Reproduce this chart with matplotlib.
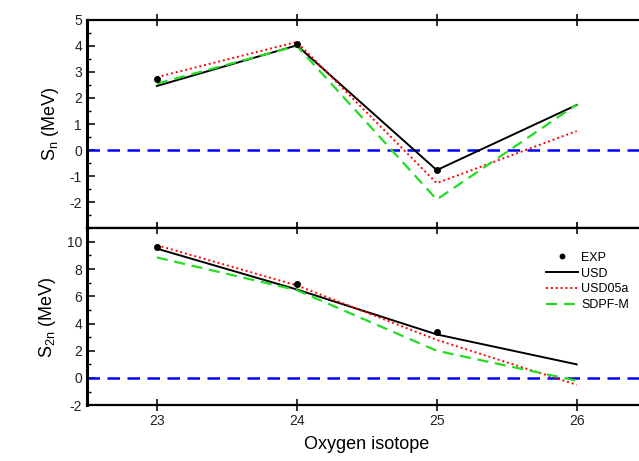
import matplotlib.pyplot as plt
import numpy as np

plt.rcParams['font.family'] = ['Liberation Sans', 'DejaVu Sans']
plt.rcParams['axes.unicode_minus'] = False
plt.rcParams['mathtext.default'] = 'regular'

isotopes = [23, 24, 25, 26]

# S_n panel
sn_exp_x = [23, 24, 25]
sn_exp = [2.74, 4.09, -0.78]
sn_usd = [2.46, 4.02, -0.77, 1.73]
sn_usd05a = [2.8, 4.15, -1.27, 0.73]
sn_sdpfm = [2.55, 4.0, -1.9, 1.75]

# S_2n panel
s2n_exp_x = [23, 24, 25]
s2n_exp = [9.6, 6.9, 3.35]
s2n_usd = [9.5, 6.5, 3.2, 1.0]
s2n_usd05a = [9.75, 6.8, 2.8, -0.5]
s2n_sdpfm = [8.85, 6.45, 2.0, -0.2]

fig = plt.figure(figsize=(6.39, 4.61), dpi=100)
ax1 = fig.add_axes([0.136, 0.505, 0.876, 0.452])
ax2 = fig.add_axes([0.136, 0.121, 0.876, 0.384])

def style(ax):
    for s in ax.spines.values():
        s.set_linewidth(1.6)
    ax.spines['left'].set_linewidth(2.2)
    ax.tick_params(axis='both', direction='in', width=1.3, length=6, labelsize=10, colors='#222222')
    ax.tick_params(axis='x', direction='inout', length=8, top=True, pad=2)
    ax.tick_params(which='minor', direction='in', length=3, width=1.0)
    ax.set_xlim(22.5, 26.5)
    ax.set_xticks(isotopes)

def draw(ax, ex_x, ex, usd, usd05a, sdpfm):
    ax.axhline(0, color='blue', ls=(0, (5, 3)), lw=1.8)
    ax.plot(isotopes, usd, color='black', lw=1.4, label='USD')
    ax.plot(isotopes, usd05a, color='red', ls=(0, (1, 1.5)), lw=1.4, label='USD05a')
    ax.plot(isotopes, sdpfm, color='#22dd22', ls=(0, (5, 3)), lw=1.6, label='SDPF-M')
    ax.plot(ex_x, ex, 'o', color='black', ms=4, label='EXP', zorder=5)

draw(ax1, sn_exp_x, sn_exp, sn_usd, sn_usd05a, sn_sdpfm)
style(ax1)
ax1.set_ylim(-3, 5)
ax1.set_yticks(np.arange(-2, 6, 1))
ax1.set_yticks(np.arange(-3, 5.01, 0.5), minor=True)
ax1.tick_params(axis='x', labelbottom=False)
ax1.set_ylabel('S$_n$ (MeV)', fontsize=13, labelpad=6)

draw(ax2, s2n_exp_x, s2n_exp, s2n_usd, s2n_usd05a, s2n_sdpfm)
style(ax2)
ax2.set_ylim(-2, 11)
ax2.set_yticks(np.arange(-2, 11, 2))
ax2.set_yticks(np.arange(-2, 11.01, 1), minor=True)
ax2.set_ylabel('S$_{2n}$ (MeV)', fontsize=13, labelpad=6)
ax2.set_xlabel('Oxygen isotope', fontsize=13, labelpad=6)

h, l = ax2.get_legend_handles_labels()
order = [3, 0, 1, 2]
ax2.legend([h[i] for i in order], [l[i] for i in order], loc='upper left',
           bbox_to_anchor=(0.8, 0.93), frameon=False, fontsize=9,
           handlelength=2.6, handletextpad=0.2, labelspacing=0.3, markerscale=0.8)

fig.savefig('out.png', dpi=100)
